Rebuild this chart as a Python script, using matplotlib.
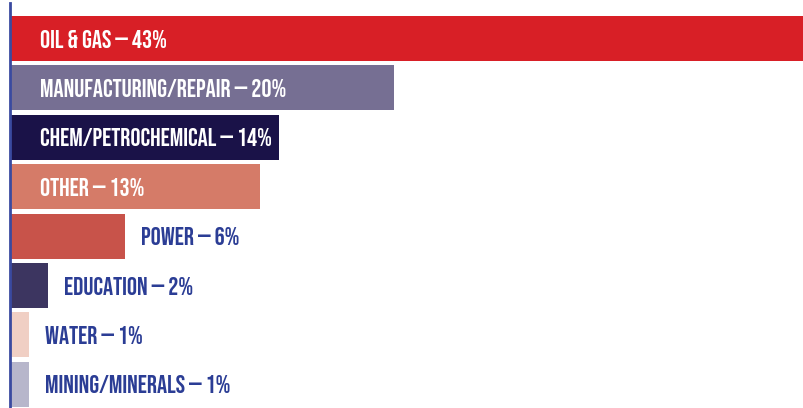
import matplotlib
matplotlib.use("Agg")
import matplotlib.pyplot as plt

sectors = ["OIL & GAS", "MANUFACTURING/REPAIR", "CHEM/PETROCHEMICAL", "OTHER",
           "POWER", "EDUCATION", "WATER", "MINING/MINERALS"]
shares = [43, 20, 14, 13, 6, 2, 1, 1]
colors = ["#D81F26", "#766F93", "#1A1248", "#D57B68",
          "#C8534A", "#3C3560", "#F0CFC4", "#B7B6CB"]

FONT = ["Bebas Neue", "Fira Sans Extra Condensed", "DejaVu Sans"]
BLUE = "#2B3D95"
XMAX = 41.35

fig = plt.figure(figsize=(8.04, 4.08), dpi=100)
ax = fig.add_axes([10 / 804, 0, 1 - 10 / 804, 405 / 408])

y = list(range(len(sectors)))
ax.barh(y, shares, height=0.91, color=colors, left=0)

px = XMAX / 794  # data units per pixel along x
for i, (name, val) in enumerate(zip(sectors, shares)):
    label = f"{name} \u2014 {val}%"
    if val >= 10:
        ax.text(30 * px, i, label, color="white", fontsize=18.1, family=FONT,
                va="center", ha="left")
    else:
        ax.text(val + 16 * px, i, label, color=BLUE, fontsize=18.1, family=FONT,
                va="center", ha="left")

ax.set_xlim(0, XMAX)
ax.set_ylim(7.48, -0.72)
for s in ["top", "right", "bottom"]:
    ax.spines[s].set_visible(False)
ax.spines["left"].set_color("#3A4AA0")
ax.spines["left"].set_linewidth(2)
ax.set_xticks([])
ax.set_yticks([])

fig.savefig("out.png")
